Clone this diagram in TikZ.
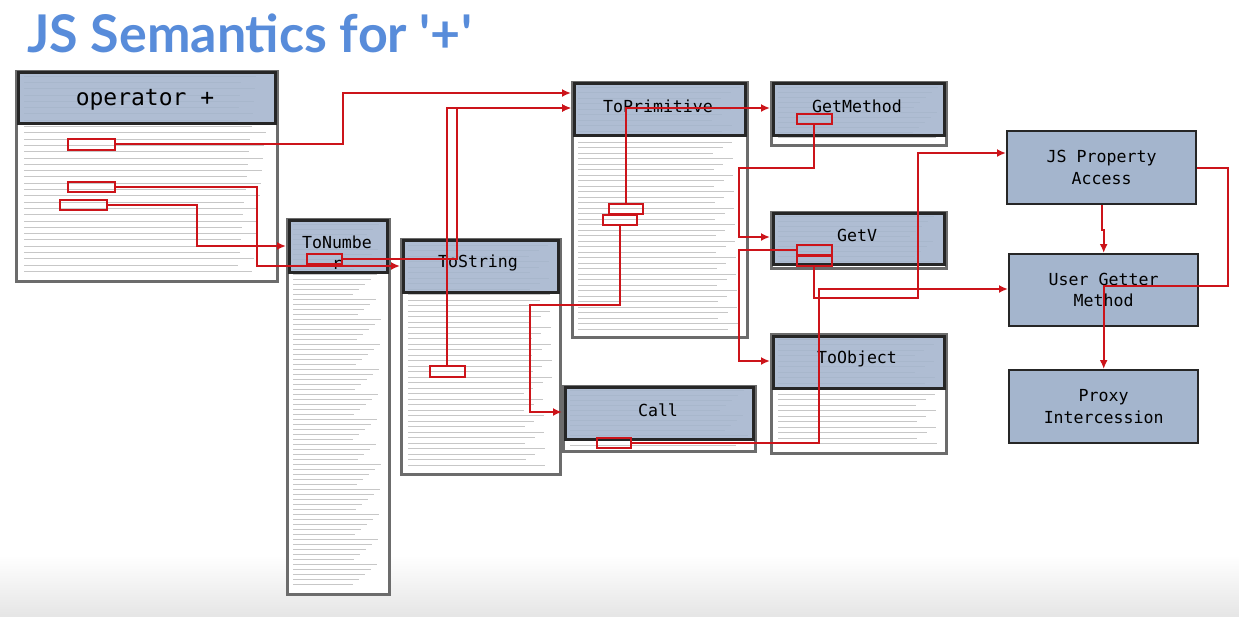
\documentclass[tikz,border=0pt]{standalone}
\usepackage{fontspec}
\usepackage{xcolor}
\usepackage{tikz}
\usetikzlibrary{positioning, arrows.meta}
\newfontfamily\titlefont{Lato}
\newfontfamily\codefont{DejaVu Sans Mono}
\definecolor{titleblue}{RGB}{88,140,218}
\definecolor{bandblue}{RGB}{164,181,205}
\definecolor{linkred}{RGB}{204,20,26}
\definecolor{pagegray}{RGB}{108,108,108}

\begin{document}
\begin{tikzpicture}[
    x=1pt, y=-1pt,
    page/.style={draw=pagegray, line width=3.4pt, fill=white, anchor=north west, inner sep=0pt},
    band/.style={draw=black!85, line width=3pt, fill=bandblue, fill opacity=0.88, anchor=north west, inner sep=0pt},
    lbl/.style={font=\codefont\fontsize{16.6}{21}\selectfont, inner sep=0pt},
    topic/.style={draw=black!85, line width=2.4pt, fill=bandblue, minimum width=189pt, minimum height=73pt, anchor=north west, align=center, font=\codefont\fontsize{16.6}{21.5}\selectfont},
    hl/.style={draw=linkred, line width=1.6pt, anchor=north west, inner sep=0pt},
    link/.style={draw=linkred, line width=2pt, -{Latex[length=9pt, width=8pt]}},
    txt/.style={draw=black!22, line width=0.8pt},
]
\useasboundingbox (0,0) rectangle (1239,616);
\fill[white] (0,0) rectangle (1239,616);
\shade[top color=white, bottom color=black!10] (0,555) rectangle (1239,616);

\node[anchor=west, inner sep=0pt, text=titleblue, font=\titlefont\bfseries\fontsize{52}{60}\selectfont] (title) at (27,33) {JS Semantics for '+'};

\node[page, minimum width=261pt, minimum height=210pt] (opPage) at (15,70) {};
\node[page, minimum width=102pt, minimum height=375pt] (numPage) at (286,218) {};
\node[page, minimum width=159pt, minimum height=235pt] (strPage) at (400,238) {};
\node[page, minimum width=175pt, minimum height=255pt] (primPage) at (571,81) {};
\node[page, minimum width=175pt, minimum height=63pt] (gmPage) at (770,81) {};
\node[page, minimum width=175pt, minimum height=56pt] (gvPage) at (770,211) {};
\node[page, minimum width=175pt, minimum height=119pt] (toPage) at (770,333) {};
\node[page, minimum width=192pt, minimum height=65pt] (callPage) at (562,385) {};

\foreach \xa/\xb/\ya/\yb/\dy in {24/266/76/272/6.3, 293/381/224/588/5, 408/552/245/468/5.5,
    578/740/87/330/5.5, 778/938/87/141/5, 778/938/216/262/5, 778/938/339/447/5.5, 570/748/390/446/5} {
  \pgfmathsetmacro\yc{\ya+\dy}
  \foreach \y [evaluate=\y as \xe using {\xb-mod(int(\y*7),29)}] in {\ya,\yc,...,\yb}
    \draw[txt] (\xa,\y) -- (\xe,\y);
}

\node[band, minimum width=257pt, minimum height=51pt] (opBand) at (17,71) {};
\node[band, minimum width=98pt, minimum height=52pt] (numBand) at (288,219) {};
\node[band, minimum width=155pt, minimum height=52pt] (strBand) at (402,239) {};
\node[band, minimum width=171pt, minimum height=52pt] (primBand) at (573,82) {};
\node[band, minimum width=171pt, minimum height=52pt] (gmBand) at (772,82) {};
\node[band, minimum width=171pt, minimum height=51pt] (gvBand) at (772,212) {};
\node[band, minimum width=171pt, minimum height=52pt] (toBand) at (772,335) {};
\node[band, minimum width=188pt, minimum height=52pt] (callBand) at (564,386) {};

\node[lbl, font=\codefont\fontsize{23}{26}\selectfont] (opLbl) at (145,100) {operator +};
\node[lbl, align=center, anchor=north] (numLbl) at (337,236) {ToNumbe\\r};
\node[lbl] (strLbl) at (478,263) {ToString};
\node[lbl] (primLbl) at (658,106) {ToPrimitive};
\node[lbl] (gmLbl) at (857,106) {GetMethod};
\node[lbl] (gvLbl) at (857,235) {GetV};
\node[lbl] (toLbl) at (857,359) {ToObject};
\node[lbl] (callLbl) at (658,410) {Call};

\node[topic] (jsBox) at (1006,130) {JS Property\\Access};
\node[topic, minimum height=72pt] (ugBox) at (1008,253) {User Getter\\Method};
\node[topic] (pxBox) at (1008,369) {Proxy\\Intercession};

\node[hl, minimum width=47pt, minimum height=11pt] (opHlA) at (67,138) {};
\node[hl, minimum width=47pt, minimum height=10pt] (opHlB) at (67,181) {};
\node[hl, minimum width=47pt, minimum height=10pt] (opHlC) at (59,199) {};
\node[hl, minimum width=35pt, minimum height=10pt] (numHl) at (306,253) {};
\node[hl, minimum width=35pt, minimum height=11pt] (strHl) at (429,365) {};
\node[hl, minimum width=34pt, minimum height=10pt] (primHlA) at (608,203) {};
\node[hl, minimum width=34pt, minimum height=10pt] (primHlB) at (602,214) {};
\node[hl, minimum width=35pt, minimum height=10pt] (gmHl) at (796,113) {};
\node[hl, minimum width=35pt, minimum height=10pt] (gvHlA) at (796,244) {};
\node[hl, minimum width=35pt, minimum height=10pt] (gvHlB) at (796,255) {};
\node[hl, minimum width=34pt, minimum height=10pt] (callHl) at (596,437) {};

\draw[link] (opHlA.east) -| (343,93) -- (primPage.west |- 0,93);
\draw[link] (opHlB.east) -| (257,266) -- (strPage.west |- 0,266);
\draw[link] (opHlC.east) -| (197,246) -- (numPage.west |- 0,246);
\draw[link] (numHl.east) -| (457,108) -- (primPage.west |- 0,108);
\draw[link] (strHl.north) |- (primPage.west |- 0,108);
\draw[link] (primHlA.north) |- (gmPage.west |- 0,108);
\draw[link] (primHlB.south) |- (530,305) |- (callPage.west |- 0,412);
\draw[link] (gmHl.south) |- (739,168) |- (gvPage.west |- 0,237);
\draw[link] (gvHlA.west) -| (739,361) -- (toPage.west |- 0,361);
\draw[link] (gvHlB.south) |- (918,298) |- (jsBox.west |- 0,153);
\draw[link] (callHl.east) -| (819,289) -- (ugBox.west |- 0,289);
\draw[link] (jsBox.south) -- ++(0,25) -| (ugBox.north);
\draw[link] (jsBox.east) -| (1228,286) -| (pxBox.north);
\end{tikzpicture}
\end{document}
